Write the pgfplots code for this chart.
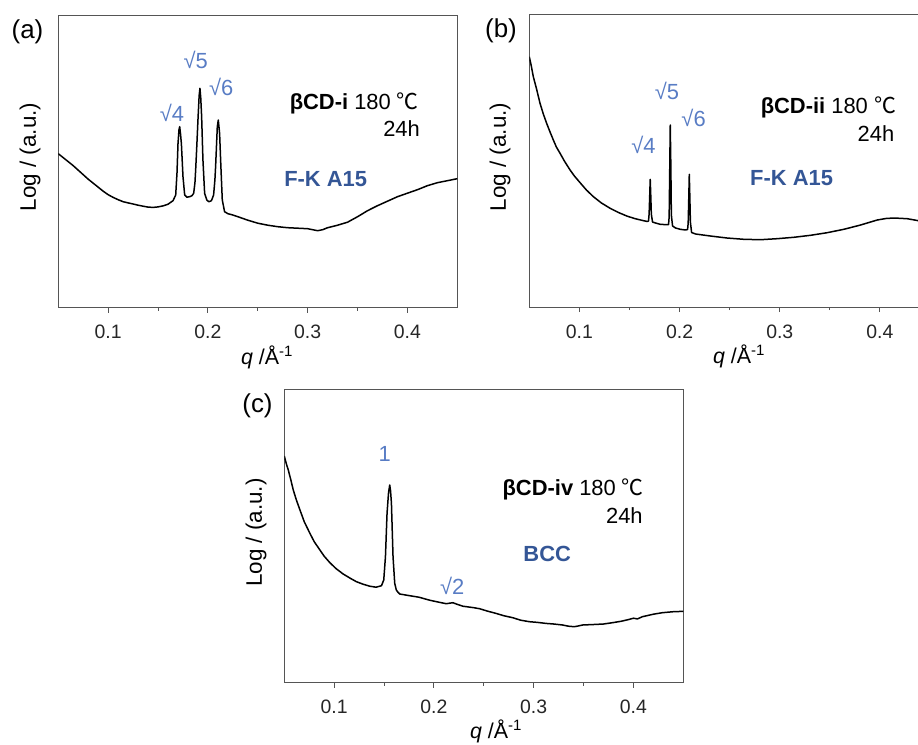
\documentclass[border=0pt]{standalone}
\usepackage{pgfplots}
\pgfplotsset{compat=1.18}
\usepackage{fontspec}
\setmainfont{Liberation Sans}
\newfontfamily\cjk{Noto Sans CJK SC}

\definecolor{peakblue}{RGB}{88,124,196}
\definecolor{phaseblue}{RGB}{52,86,150}
\definecolor{framegray}{RGB}{85,85,85}

\newcommand{\ann}{\fontsize{22}{22}\selectfont}
\newcommand{\pk}{\fontsize{22}{22}\selectfont}

\pgfplotsset{
  saxs/.style={
    scale only axis,
    width=399bp, height=292.7bp,
    xmin=0.05, xmax=0.45, ymin=0, ymax=292.7,
    axis line style={framegray, line width=0.9bp},
    xtick={0.1,0.2,0.3,0.4},
    xticklabels={0.1,0.2,0.3,0.4},
    minor xtick={0.15,0.25,0.35},
    ytick=\empty,
    tick align=outside,
    xtick pos=lower,
    major tick length=5bp,
    minor tick length=3bp,
    every tick/.style={framegray, line width=0.9bp},
    xticklabel style={font=\fontsize{19.5}{19.5}\selectfont, text=black!85, yshift=-9bp},
  },
  curve/.style={black, line width=1.5bp, line join=round},
}

\begin{document}
\begin{tikzpicture}

% ---------------- (a) beta-CD-i ----------------
\begin{axis}[saxs, at={(58.3bp,-307.7bp)}, anchor=south west]
\addplot[curve] coordinates {
(0.0500,154) (0.0550,150) (0.0600,146) (0.0650,142) (0.0700,137.5)
(0.0750,133) (0.0800,128.5) (0.0850,124.5) (0.0900,120.5) (0.0950,116.5)
(0.1000,113) (0.1050,110.3) (0.1100,108) (0.1150,106) (0.1200,104.8)
(0.1250,103.7) (0.1300,102.5) (0.1350,101.5) (0.1400,100.6) (0.1450,100.3)
(0.1500,100.8) (0.1550,101.8) (0.1600,103.5) (0.1650,107) (0.1677,112.7)
(0.1690,135) (0.1700,164) (0.1710,178) (0.1717,181) (0.1725,174)
(0.1734,164) (0.1750,131) (0.1767,112.7) (0.1790,110.5) (0.1817,111)
(0.1840,112) (0.1857,114.4) (0.1870,125) (0.1877,137.7) (0.1890,165)
(0.1900,187.7) (0.1912,212) (0.1920,219.4) (0.1928,210) (0.1937,191)
(0.1950,147.7) (0.1967,114.4) (0.1990,107.5) (0.2010,106) (0.2035,107)
(0.2057,112.7) (0.2070,128) (0.2077,141) (0.2094,181) (0.2104,187.7)
(0.2117,174.4) (0.2130,141) (0.2144,107.7) (0.2167,96) (0.2200,94)
(0.2250,92.7) (0.2300,91) (0.2400,87.5) (0.2500,84.5) (0.2600,82.5)
(0.2700,81) (0.2800,80) (0.2900,79.5) (0.3000,79) (0.3050,78)
(0.3100,77) (0.3150,78) (0.3200,80) (0.3300,82.5) (0.3400,85.5)
(0.3500,91) (0.3600,97) (0.3700,102) (0.3800,106.5) (0.3900,111)
(0.4000,114.5) (0.4100,118) (0.4200,122) (0.4300,125) (0.4400,127)
(0.4500,129)
};
\node[anchor=base east, font=\ann] at (axis cs:0.4150,198.4) {\textbf{βCD-i} 180 {\cjk ℃}};
\node[anchor=base east, font=\ann] at (axis cs:0.4160,171) {24h};
\node[anchor=base west, font=\ann\bfseries, text=phaseblue] at (axis cs:0.2730,121.7) {F-K A15};
\node[anchor=base, font=\pk, text=peakblue] at (axis cs:0.1640,186) {√4};
\node[anchor=base, font=\pk, text=peakblue] at (axis cs:0.1877,239.4) {√5};
\node[anchor=base, font=\pk, text=peakblue] at (axis cs:0.2133,212) {√6};
\end{axis}

% ---------------- (b) beta-CD-ii ----------------
\begin{axis}[saxs, at={(529.3bp,-307bp)}, anchor=south west,
  width=390.7bp, xmax=0.44]
\addplot[curve] coordinates {
(0.0500,250.3) (0.0520,241) (0.0540,230.3) (0.0570,219) (0.0607,203.7)
(0.0640,193) (0.0673,183.7) (0.0707,175) (0.0740,167) (0.0770,160)
(0.0807,153.7) (0.0850,146) (0.0907,137) (0.0950,131) (0.1007,124.3)
(0.1070,117) (0.1140,110.3) (0.1220,104) (0.1307,98.7) (0.1390,94.5)
(0.1473,91) (0.1550,88.5) (0.1640,86.3) (0.1680,85.5) (0.1690,86)
(0.1696,93) (0.1701,108) (0.1707,127.7) (0.1713,110) (0.1718,93)
(0.1730,85) (0.1760,84) (0.1807,82.7) (0.1870,82.3) (0.1890,82.5)
(0.1896,90) (0.1901,130) (0.1907,182) (0.1913,140) (0.1918,92)
(0.1930,81) (0.1960,79) (0.2007,77.7) (0.2060,77) (0.2080,77.5)
(0.2086,84) (0.2091,105) (0.2097,132.7) (0.2103,108) (0.2108,85)
(0.2120,74.5) (0.2160,73) (0.2307,71) (0.2473,69) (0.2640,67.7)
(0.2807,67.3) (0.2973,68.3) (0.3140,69.7) (0.3307,71.7) (0.3473,74.3)
(0.3640,77.7) (0.3807,82) (0.3973,87) (0.4060,88.5) (0.4140,89)
(0.4273,88.3) (0.4400,86)
};
\node[anchor=base east, font=\ann] at (axis cs:0.4195,193.7) {\textbf{βCD-ii} 180 {\cjk ℃}};
\node[anchor=base east, font=\ann] at (axis cs:0.4178,165.3) {24h};
\node[anchor=base west, font=\ann\bfseries, text=phaseblue] at (axis cs:0.2670,122) {F-K A15};
\node[anchor=base, font=\pk, text=peakblue] at (axis cs:0.1640,153.7) {√4};
\node[anchor=base, font=\pk, text=peakblue] at (axis cs:0.1874,208) {√5};
\node[anchor=base, font=\pk, text=peakblue] at (axis cs:0.2140,180.3) {√6};
\end{axis}

% ---------------- (c) beta-CD-iv ----------------
\begin{axis}[saxs, at={(284.3bp,-682.7bp)}, anchor=south west,
  height=293.4bp, ymax=293.4]
\addplot[curve] coordinates {
(0.0500,226.7) (0.0520,219) (0.0540,212.7) (0.0565,203) (0.0590,192.7)
(0.0620,183) (0.0657,172.7) (0.0700,161) (0.0757,149.3) (0.0800,141)
(0.0857,132.7) (0.0900,126.5) (0.0957,120) (0.1020,114) (0.1090,108.7)
(0.1160,104.5) (0.1223,101) (0.1290,98.5) (0.1357,96.5) (0.1420,95.5)
(0.1474,97) (0.1497,102.7) (0.1514,126) (0.1530,169.4) (0.1545,190)
(0.1557,197.7) (0.1565,192) (0.1574,179.4) (0.1590,126) (0.1607,99.4)
(0.1623,92.7) (0.1640,90.4) (0.1657,88.7) (0.1757,87) (0.1850,85.5)
(0.1957,82.5) (0.2050,80.5) (0.2123,79) (0.2190,80) (0.2230,78.5)
(0.2290,76.5) (0.2400,75) (0.2457,74) (0.2540,71.5) (0.2623,69.3)
(0.2700,67) (0.2790,65) (0.2870,62.5) (0.2957,61) (0.3040,60.3)
(0.3123,59.3) (0.3200,58.7) (0.3290,57.7) (0.3350,56.5) (0.3407,56)
(0.3450,56.8) (0.3490,57.7) (0.3623,58.3) (0.3700,58.7) (0.3790,60)
(0.3880,61.5) (0.3957,63.3) (0.4000,64.5) (0.4040,63.8) (0.4090,66)
(0.4200,68.5) (0.4290,70) (0.4400,71) (0.4483,71.3) (0.4500,71.3)
};
\node[anchor=base east, font=\ann] at (axis cs:0.4140,187.7) {\textbf{βCD-iv} 180 {\cjk ℃}};
\node[anchor=base east, font=\ann] at (axis cs:0.4128,159.3) {24h};
\node[anchor=base west, font=\ann\bfseries, text=phaseblue] at (axis cs:0.2862,121) {BCC};
\node[anchor=base, font=\pk, text=peakblue] at (axis cs:0.1507,221.7) {1};
\node[anchor=base, font=\pk, text=peakblue] at (axis cs:0.2183,88.7) {√2};
\end{axis}

% axis titles and panel letters
\node[rotate=90, font=\fontsize{22.5}{22.5}\selectfont] at (30bp,-157bp) {Log / (a.u.)};
\node[rotate=90, font=\fontsize{22.5}{22.5}\selectfont] at (500bp,-157bp) {Log / (a.u.)};
\node[rotate=90, font=\fontsize{22.5}{22.5}\selectfont] at (256bp,-532.5bp) {Log / (a.u.)};

\node[anchor=base, font=\fontsize{21.5}{21.5}\selectfont] at (267bp,-364bp) {\textit{q} /Å\textsuperscript{-1}};
\node[anchor=base, font=\fontsize{21.5}{21.5}\selectfont] at (739bp,-363bp) {\textit{q} /Å\textsuperscript{-1}};
\node[anchor=base, font=\fontsize{21.5}{21.5}\selectfont] at (496bp,-738bp) {\textit{q} /Å\textsuperscript{-1}};

\node[font=\fontsize{26}{26}\selectfont] at (27.5bp,-31.7bp) {(a)};
\node[font=\fontsize{26}{26}\selectfont] at (501bp,-31bp) {(b)};
\node[font=\fontsize{26}{26}\selectfont] at (257.5bp,-405.7bp) {(c)};

\pgfresetboundingbox
\path[use as bounding box] (0bp,0bp) rectangle (918bp,-745bp);
\end{tikzpicture}
\end{document}
